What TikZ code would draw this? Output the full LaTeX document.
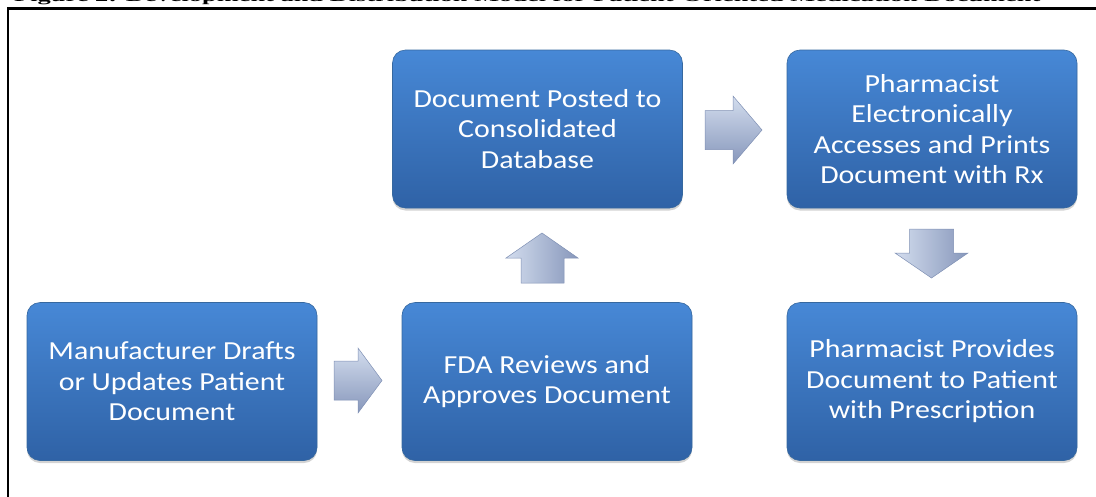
\documentclass[tikz,border=0pt]{standalone}
\usepackage{fontspec}
\newfontfamily\boxfont{Carlito}[FakeStretch=1.15]
\newfontfamily\titlefont{Liberation Serif}
\usetikzlibrary{shadows}
\definecolor{boxtop}{HTML}{4788D6}
\definecolor{boxbot}{HTML}{2F62A6}
\definecolor{boxline}{HTML}{36689F}
\definecolor{arrlight}{HTML}{D3DDEE}
\definecolor{arrdark}{HTML}{8797BB}
\definecolor{arrline}{HTML}{7F90B4}
\tikzset{
  stepbox/.style={rounded corners=13pt, minimum width=290pt, minimum height=158pt,
    top color=boxtop, bottom color=boxbot, draw=boxline, line width=0.6pt,
    drop shadow={shadow xshift=0pt, shadow yshift=-2.5pt, opacity=0.35},
    text=white, align=center, inner sep=4pt,
    font=\boxfont\fontsize{26}{30.5}\selectfont},
  harrow/.style={top color=arrlight, bottom color=arrdark, draw=arrline, line width=0.5pt, line join=miter},
  varrow/.style={left color=arrlight, right color=arrdark, draw=arrline, line width=0.5pt, line join=miter}
}
\begin{document}
\begin{tikzpicture}[x=1pt,y=-1pt]
\useasboundingbox (0,0) rectangle (1096,496);
% title (cut off by the page edge)
\node[anchor=base west, inner sep=0] (title) at (14,1.5)
  {\resizebox{1026pt}{10.5pt}{\titlefont\bfseries Figure 2: Development and Distribution Model for Patient-Oriented Medication Document}};
% frame
\draw[line width=2.6pt] (8,8.3) rectangle (1120,520);
% boxes
\node[stepbox] (manu) at (172,381.5) {Manufacturer Drafts\\or Updates Patient\\Document};
\node[stepbox] (fda) at (547,381.5) {FDA Reviews and\\Approves Document};
\node[stepbox] (post) at (537.5,129) {Document Posted to\\Consolidated\\Database};
\node[stepbox] (print) at (932,129) {Pharmacist\\Electronically\\Accesses and Prints\\Document with Rx};
\node[stepbox] (give) at (932,381.5) {Pharmacist Provides\\Document to Patient\\with Prescription};
% block arrows
% manu -> fda
\path[harrow] (334,361) -- (358,361) -- (358,348) -- (382,380.5) -- (358,413) -- (358,400) -- (334,400) -- cycle;
% fda -> post (up)
\path[varrow] (521,283) -- (521,258) -- (506,258) -- (542,233) -- (578,258) -- (564,258) -- (564,283) -- cycle;
% post -> print
\path[harrow] (705,110.5) -- (733,110.5) -- (733,96) -- (762,130) -- (733,164) -- (733,149.5) -- (705,149.5) -- cycle;
% print -> give (down)
\path[varrow] (909.5,229) -- (953.5,229) -- (953.5,253) -- (968,253) -- (931.5,278) -- (895,253) -- (909.5,253) -- cycle;
\end{tikzpicture}
\end{document}
